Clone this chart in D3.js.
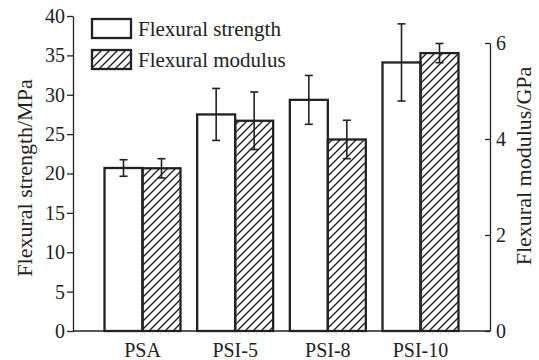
<!DOCTYPE html>
<html><head><meta charset="utf-8">
<script src="https://cdn.jsdelivr.net/npm/d3@7"></script>
<style>
body{margin:0;background:#fff;}
svg{display:block;}
</style></head>
<body>
<svg id="chart" width="539" height="360"></svg>
<script>
const categories = ["PSA","PSI-5","PSI-8","PSI-10"];
const strength = [20.7, 27.5, 29.35, 34.1];
const strengthErr = [1.05, 3.3, 3.1, 4.9];
const modulus = [3.39, 4.38, 3.99, 5.79];
const modulusErr = [0.2, 0.6, 0.4, 0.2];
const leftTicks = [0,5,10,15,20,25,30,35,40];
const rightTicks = [0,2,4,6];
const seriesNames = ["Flexural strength","Flexural modulus"];

const FONT = "Liberation Serif, Tinos, Times New Roman, DejaVu Serif, serif";
const svg = d3.select("#chart").attr("font-family", FONT);
const X0 = 73, X1 = 490, Y0 = 331;
const ink = "#222";

const x = d3.scaleBand().domain(categories).range([X0, X1]).paddingInner(0.18).paddingOuter(0.34);
const xs = d3.scaleBand().domain([0,1]).range([0, x.bandwidth()]);
const yL = d3.scaleLinear().domain([0,40]).range([Y0, 16]);
const yR = d3.scaleLinear().domain([0,6]).range([Y0, 43]);

const defs = svg.append("defs");
const pat = defs.append("pattern").attr("id","hatch").attr("patternUnits","userSpaceOnUse")
  .attr("width",8).attr("height",8);
pat.append("path").attr("d","M-2,2 L2,-2 M0,8 L8,0 M6,10 L10,6")
  .attr("stroke",ink).attr("stroke-width",1.4);

const g = svg.append("g");
categories.forEach((c,i)=>{
  const bx = x(c);
  g.append("rect").attr("x", bx + xs(0)).attr("y", yL(strength[i]))
    .attr("width", xs.bandwidth()).attr("height", Y0 - yL(strength[i]))
    .attr("fill","#fff").attr("stroke",ink).attr("stroke-width",2.3);
  g.append("rect").attr("x", bx + xs(1)).attr("y", yR(modulus[i]))
    .attr("width", xs.bandwidth()).attr("height", Y0 - yR(modulus[i]))
    .attr("fill","url(#hatch)").attr("stroke",ink).attr("stroke-width",2.3);
});
function errBar(cx, yTop, yBot){
  const e = g.append("g").attr("stroke",ink).attr("stroke-width",1.6);
  e.append("line").attr("x1",cx).attr("x2",cx).attr("y1",yTop).attr("y2",yBot);
  e.append("line").attr("x1",cx-4).attr("x2",cx+4).attr("y1",yTop).attr("y2",yTop);
  e.append("line").attr("x1",cx-4).attr("x2",cx+4).attr("y1",yBot).attr("y2",yBot);
}
categories.forEach((c,i)=>{
  const bx = x(c);
  errBar(bx + xs(0) + xs.bandwidth()/2, yL(strength[i]+strengthErr[i]), yL(strength[i]-strengthErr[i]));
  errBar(bx + xs(1) + xs.bandwidth()/2, yR(modulus[i]+modulusErr[i]), yR(modulus[i]-modulusErr[i]));
});

const axL = svg.append("g").attr("transform",`translate(${X0},0)`)
  .call(d3.axisLeft(yL).tickValues(leftTicks).tickFormat(d3.format("d")).tickSizeInner(6).tickSizeOuter(0).tickPadding(2));
const axR = svg.append("g").attr("transform",`translate(${X1},0)`)
  .call(d3.axisRight(yR).tickValues(rightTicks).tickFormat(d3.format("d")).tickSizeInner(-5).tickSizeOuter(0).tickPadding(6));
[axL, axR].forEach(a=>{
  a.attr("font-family", FONT).attr("font-size", 20);
  a.selectAll("path,line").attr("stroke",ink).attr("stroke-width",1.3);
  a.selectAll("text").attr("fill",ink);
});
svg.append("line").attr("x1",X0).attr("x2",X1).attr("y1",Y0).attr("y2",Y0)
  .attr("stroke",ink).attr("stroke-width",1.3);
svg.append("g").selectAll("text").data(categories).join("text")
  .attr("x", d=>x(d)+x.bandwidth()/2).attr("y", 357)
  .attr("text-anchor","middle").attr("font-size",20).attr("fill",ink).text(d=>d);

svg.append("text").attr("transform",`translate(32,${178}) rotate(-90)`)
  .attr("text-anchor","middle").attr("font-size",22).attr("fill",ink).text("Flexural strength/MPa");
svg.append("text").attr("transform",`translate(531,${166}) rotate(-90)`)
  .attr("text-anchor","middle").attr("font-size",22).attr("fill",ink).text("Flexural modulus/GPa");

const lg = svg.append("g");
const fills = ["#fff","url(#hatch)"];
seriesNames.forEach((n,i)=>{
  const yy = 19 + i*31;
  lg.append("rect").attr("x",92).attr("y",yy).attr("width",39).attr("height",19)
    .attr("fill",fills[i]).attr("stroke",ink).attr("stroke-width",2.3);
  lg.append("text").attr("x",138).attr("y",yy+17).attr("font-size",21).attr("fill",ink).text(n);
});
</script>
</body></html>
